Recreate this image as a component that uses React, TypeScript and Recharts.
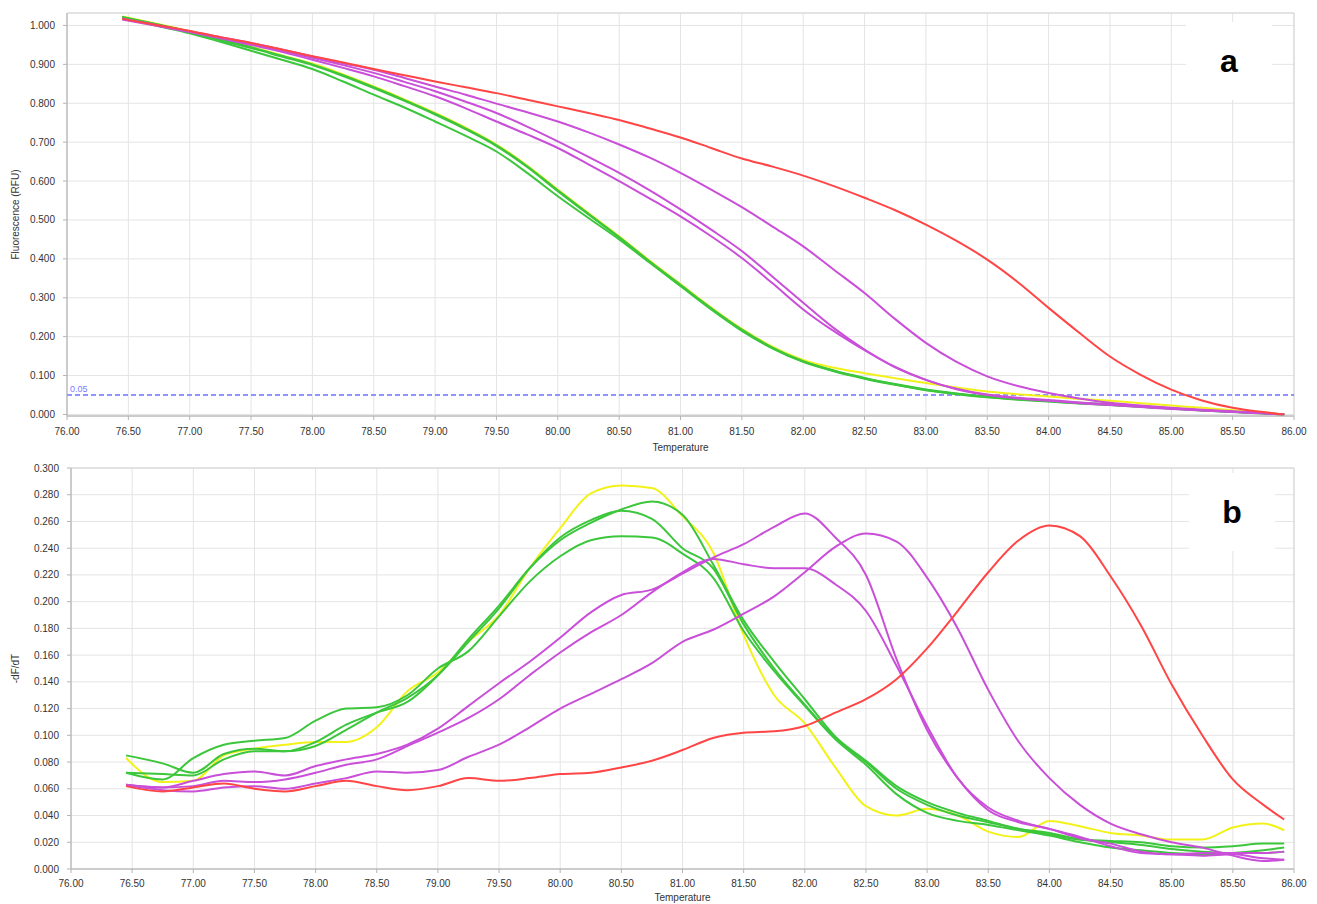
import React from 'react'
import { LineChart, Line, XAxis, YAxis, CartesianGrid, ReferenceLine, ReferenceArea } from 'recharts'

// temperature steps shared by both panels
const temps = [76.45, 76.75, 77.0, 77.25, 77.5, 77.75, 78.0, 78.25, 78.5, 78.75, 79.0, 79.25, 79.5, 79.75, 80.0, 80.25, 80.5, 80.75, 81.0, 81.25, 81.5, 81.75, 82.0, 82.25, 82.5, 82.75, 83.0, 83.25, 83.5, 83.75, 84.0, 84.25, 84.5, 84.75, 85.0, 85.25, 85.5, 85.75, 85.92]

// panel a: melt curves (RFU)
const meltYellow = [1.023, 1.003, 0.985, 0.965, 0.945, 0.923, 0.902, 0.874, 0.843, 0.810, 0.775, 0.737, 0.694, 0.640, 0.578, 0.518, 0.458, 0.395, 0.335, 0.275, 0.220, 0.174, 0.140, 0.120, 0.106, 0.093, 0.081, 0.069, 0.059, 0.052, 0.046, 0.040, 0.035, 0.029, 0.023, 0.017, 0.011, 0.005, 0.000]
const meltGreen1 = [1.022, 1.002, 0.984, 0.964, 0.944, 0.922, 0.900, 0.872, 0.841, 0.808, 0.773, 0.735, 0.692, 0.638, 0.576, 0.516, 0.456, 0.393, 0.333, 0.273, 0.218, 0.172, 0.137, 0.113, 0.094, 0.078, 0.064, 0.054, 0.046, 0.040, 0.035, 0.030, 0.026, 0.021, 0.016, 0.011, 0.007, 0.003, 0.000]
const meltGreen2 = [1.021, 1.001, 0.983, 0.962, 0.942, 0.920, 0.898, 0.870, 0.839, 0.806, 0.771, 0.733, 0.690, 0.636, 0.574, 0.514, 0.455, 0.392, 0.331, 0.272, 0.216, 0.170, 0.135, 0.111, 0.092, 0.076, 0.062, 0.052, 0.044, 0.038, 0.033, 0.028, 0.024, 0.020, 0.015, 0.011, 0.007, 0.003, 0.000]
const meltGreen3 = [1.020, 0.998, 0.980, 0.958, 0.935, 0.912, 0.888, 0.856, 0.822, 0.789, 0.753, 0.716, 0.676, 0.621, 0.561, 0.505, 0.450, 0.390, 0.330, 0.270, 0.215, 0.170, 0.136, 0.112, 0.093, 0.077, 0.063, 0.053, 0.045, 0.039, 0.034, 0.029, 0.025, 0.020, 0.015, 0.010, 0.006, 0.003, 0.000]
const meltMagenta1 = [1.017, 0.999, 0.984, 0.968, 0.952, 0.935, 0.917, 0.898, 0.878, 0.855, 0.831, 0.804, 0.775, 0.740, 0.702, 0.662, 0.621, 0.576, 0.527, 0.475, 0.420, 0.354, 0.287, 0.222, 0.167, 0.122, 0.089, 0.066, 0.051, 0.043, 0.037, 0.031, 0.026, 0.021, 0.016, 0.011, 0.007, 0.003, 0.000]
const meltMagenta2 = [1.015, 0.998, 0.983, 0.967, 0.950, 0.932, 0.912, 0.891, 0.869, 0.844, 0.818, 0.787, 0.753, 0.720, 0.685, 0.643, 0.600, 0.555, 0.509, 0.458, 0.402, 0.337, 0.270, 0.214, 0.165, 0.121, 0.089, 0.065, 0.050, 0.041, 0.035, 0.029, 0.024, 0.019, 0.014, 0.010, 0.006, 0.003, 0.000]
const meltMagenta3 = [1.017, 1.000, 0.985, 0.970, 0.955, 0.938, 0.920, 0.903, 0.886, 0.865, 0.843, 0.822, 0.799, 0.777, 0.753, 0.725, 0.694, 0.660, 0.621, 0.578, 0.533, 0.483, 0.432, 0.372, 0.312, 0.245, 0.184, 0.135, 0.098, 0.073, 0.055, 0.041, 0.030, 0.023, 0.017, 0.012, 0.008, 0.004, 0.000]
const meltRed = [1.017, 1.000, 0.986, 0.970, 0.955, 0.938, 0.921, 0.905, 0.888, 0.872, 0.856, 0.841, 0.826, 0.809, 0.792, 0.775, 0.757, 0.735, 0.712, 0.685, 0.658, 0.637, 0.614, 0.587, 0.557, 0.525, 0.488, 0.446, 0.398, 0.340, 0.274, 0.210, 0.149, 0.102, 0.064, 0.036, 0.017, 0.006, 0.000]

// panel b: -dF/dT
const derivYellow = [0.083, 0.065, 0.066, 0.085, 0.090, 0.093, 0.095, 0.095, 0.106, 0.133, 0.147, 0.170, 0.190, 0.225, 0.255, 0.281, 0.287, 0.285, 0.264, 0.237, 0.175, 0.130, 0.109, 0.076, 0.047, 0.040, 0.045, 0.040, 0.028, 0.024, 0.036, 0.032, 0.027, 0.025, 0.022, 0.022, 0.031, 0.034, 0.029]
const derivGreen1 = [0.072, 0.071, 0.070, 0.082, 0.088, 0.088, 0.095, 0.108, 0.117, 0.125, 0.145, 0.172, 0.197, 0.225, 0.246, 0.259, 0.269, 0.275, 0.265, 0.228, 0.186, 0.155, 0.127, 0.099, 0.081, 0.062, 0.050, 0.042, 0.036, 0.030, 0.027, 0.022, 0.020, 0.018, 0.015, 0.013, 0.012, 0.012, 0.013]
const derivGreen2 = [0.085, 0.079, 0.072, 0.086, 0.090, 0.088, 0.092, 0.104, 0.117, 0.128, 0.145, 0.170, 0.195, 0.225, 0.248, 0.261, 0.268, 0.262, 0.240, 0.225, 0.183, 0.150, 0.123, 0.098, 0.080, 0.060, 0.048, 0.040, 0.035, 0.030, 0.026, 0.022, 0.021, 0.020, 0.017, 0.016, 0.017, 0.019, 0.019]
const derivGreen3 = [0.072, 0.067, 0.083, 0.093, 0.096, 0.098, 0.111, 0.120, 0.121, 0.130, 0.150, 0.163, 0.189, 0.215, 0.234, 0.246, 0.249, 0.248, 0.236, 0.218, 0.178, 0.148, 0.122, 0.097, 0.078, 0.056, 0.042, 0.036, 0.033, 0.029, 0.025, 0.020, 0.016, 0.014, 0.012, 0.011, 0.012, 0.014, 0.016]
const derivMagenta1 = [0.063, 0.061, 0.066, 0.071, 0.073, 0.070, 0.077, 0.082, 0.086, 0.093, 0.105, 0.122, 0.139, 0.155, 0.173, 0.192, 0.205, 0.209, 0.221, 0.233, 0.243, 0.256, 0.266, 0.248, 0.220, 0.157, 0.104, 0.068, 0.044, 0.035, 0.030, 0.023, 0.019, 0.013, 0.011, 0.012, 0.012, 0.012, 0.013]
const derivMagenta2 = [0.063, 0.061, 0.062, 0.066, 0.065, 0.067, 0.072, 0.078, 0.082, 0.092, 0.102, 0.113, 0.127, 0.145, 0.162, 0.177, 0.190, 0.207, 0.222, 0.232, 0.228, 0.225, 0.225, 0.213, 0.193, 0.152, 0.107, 0.068, 0.046, 0.036, 0.030, 0.024, 0.017, 0.012, 0.011, 0.010, 0.011, 0.008, 0.007]
const derivMagenta3 = [0.063, 0.059, 0.058, 0.061, 0.062, 0.060, 0.064, 0.068, 0.073, 0.072, 0.074, 0.084, 0.093, 0.106, 0.120, 0.131, 0.142, 0.154, 0.170, 0.179, 0.191, 0.204, 0.222, 0.241, 0.251, 0.245, 0.218, 0.180, 0.134, 0.095, 0.068, 0.048, 0.034, 0.026, 0.020, 0.016, 0.010, 0.006, 0.007]
const derivRed = [0.062, 0.058, 0.061, 0.064, 0.060, 0.058, 0.062, 0.066, 0.062, 0.059, 0.062, 0.068, 0.066, 0.068, 0.071, 0.072, 0.076, 0.081, 0.089, 0.098, 0.102, 0.103, 0.107, 0.117, 0.127, 0.142, 0.165, 0.193, 0.222, 0.246, 0.257, 0.249, 0.219, 0.182, 0.138, 0.100, 0.067, 0.048, 0.037]

// axis ticks
const xTicks = [76, 76.5, 77, 77.5, 78, 78.5, 79, 79.5, 80, 80.5, 81, 81.5, 82, 82.5, 83, 83.5, 84, 84.5, 85, 85.5, 86]
const meltTicks = [0, 0.1, 0.2, 0.3, 0.4, 0.5, 0.6, 0.7, 0.8, 0.9, 1.0]
const derivTicks = [0, 0.02, 0.04, 0.06, 0.08, 0.1, 0.12, 0.14, 0.16, 0.18, 0.2, 0.22, 0.24, 0.26, 0.28, 0.3]
const xMinor = Array.from({ length: 101 }, (_, i) => 76 + i * 0.1)
const meltMinor = Array.from({ length: 52 }, (_, i) => i * 0.02)
const derivMinor = Array.from({ length: 31 }, (_, i) => i * 0.01)
const threshold = 0.05

const YELLOW = '#f2f21a'
const GREEN = '#3cc63c'
const MAGENTA = '#c94fd9'
const RED = '#ff4545'

const FONT = '"Liberation Sans", Arial, sans-serif'
const tickStyle = { fontSize: 10, fill: '#333', fontFamily: FONT }
const AXIS = '#b4b4b4'

const seriesKeys = [
  { key: 'yellow', color: YELLOW },
  { key: 'green1', color: GREEN },
  { key: 'green2', color: GREEN },
  { key: 'green3', color: GREEN },
  { key: 'magenta1', color: MAGENTA },
  { key: 'magenta2', color: MAGENTA },
  { key: 'magenta3', color: MAGENTA },
  { key: 'red', color: RED },
]

const meltRows = temps.map((t, i) => ({
  t,
  yellow: meltYellow[i], green1: meltGreen1[i], green2: meltGreen2[i], green3: meltGreen3[i],
  magenta1: meltMagenta1[i], magenta2: meltMagenta2[i], magenta3: meltMagenta3[i], red: meltRed[i],
}))

const derivRows = temps.map((t, i) => ({
  t,
  yellow: derivYellow[i], green1: derivGreen1[i], green2: derivGreen2[i], green3: derivGreen3[i],
  magenta1: derivMagenta1[i], magenta2: derivMagenta2[i], magenta3: derivMagenta3[i], red: derivRed[i],
}))

function YTitle({ viewBox, text }: any) {
  const cx = 7
  const cy = viewBox.y + viewBox.height / 2
  return (
    <text x={cx} y={cy} transform={`rotate(-90 ${cx} ${cy})`} textAnchor="middle" dominantBaseline="central"
      fontSize={10} fill="#333" fontFamily={FONT}>{text}</text>
  )
}

function PanelLetter({ top, left, letter }: { top: number; left: number; letter: string }) {
  return (
    <div style={{ position: 'absolute', top, left, width: 86, height: 78, background: '#fff' }}>
      <div style={{ position: 'absolute', top: 23, left: 0, width: 86, textAlign: 'center', fontSize: 32, lineHeight: '32px', fontWeight: 'bold', fontFamily: FONT, color: '#000' }}>
        {letter}
      </div>
    </div>
  )
}

export default function App() {
  return (
    <div style={{ position: 'relative', width: 1301, height: 896, background: '#fff' }}>
      <div style={{ position: 'absolute', top: 0, left: 0 }}>
        <LineChart width={1301} height={450} data={meltRows} margin={{ top: 5, right: 15, bottom: 4, left: 0 }}>
          <XAxis xAxisId="minor" dataKey="t" type="number" domain={[76, 86]} ticks={xMinor} interval={0}
            tick={false} tickSize={3} axisLine={false} height={0} stroke={AXIS} allowDataOverflow />
          <XAxis dataKey="t" type="number" domain={[76, 86]} ticks={xTicks} interval={0} height={38}
            tickFormatter={(v: number) => v.toFixed(2)} tick={tickStyle} tickSize={4} tickMargin={8}
            stroke={AXIS} allowDataOverflow
            label={{ value: 'Temperature', position: 'insideBottom', offset: 3, style: { fontSize: 10, fill: '#333', fontFamily: FONT } }} />
          <YAxis yAxisId="minor" type="number" domain={[-0.004, 1.032]} ticks={meltMinor} interval={0}
            tick={false} tickSize={3} axisLine={false} width={0} stroke={AXIS} allowDataOverflow />
          <YAxis type="number" domain={[-0.004, 1.032]} ticks={meltTicks} interval={0} width={59}
            tickFormatter={(v: number) => v.toFixed(3)} tick={tickStyle} tickSize={4} tickMargin={8}
            stroke={AXIS} allowDataOverflow label={<YTitle text="Fluorescence (RFU)" />} />
          <CartesianGrid stroke="#e4e4e4" />
          <ReferenceArea x1={76} x2={86} y1={-0.004} y2={1.032} fill="none" stroke="#d4d4d4" />
          <ReferenceLine y={threshold} stroke="#7070ff" strokeWidth={1.5} strokeDasharray="5 3"
            label={{ value: '0.05', position: 'insideBottomLeft', offset: 3, style: { fontSize: 9, fill: '#7b7bff', fontFamily: FONT } }} />
          {seriesKeys.map((s) => (
            <Line key={s.key} dataKey={s.key} type="monotone" stroke={s.color} strokeWidth={2}
              dot={false} isAnimationActive={false} />
          ))}
        </LineChart>
      </div>
      <div style={{ position: 'absolute', top: 450, left: 0 }}>
        <LineChart width={1301} height={445} data={derivRows} margin={{ top: 10, right: 15, bottom: 0, left: 0 }}>
          <XAxis xAxisId="minor" dataKey="t" type="number" domain={[76, 86]} ticks={xMinor} interval={0}
            tick={false} tickSize={3} axisLine={false} height={0} stroke={AXIS} allowDataOverflow />
          <XAxis dataKey="t" type="number" domain={[76, 86]} ticks={xTicks} interval={0} height={34}
            tickFormatter={(v: number) => v.toFixed(2)} tick={tickStyle} tickSize={4} tickMargin={7}
            stroke={AXIS} allowDataOverflow
            label={{ value: 'Temperature', position: 'insideBottom', offset: 2, style: { fontSize: 10, fill: '#333', fontFamily: FONT } }} />
          <YAxis yAxisId="minor" type="number" domain={[0, 0.3]} ticks={derivMinor} interval={0}
            tick={false} tickSize={3} axisLine={false} width={0} stroke={AXIS} allowDataOverflow />
          <YAxis type="number" domain={[0, 0.3]} ticks={derivTicks} interval={0} width={63}
            tickFormatter={(v: number) => v.toFixed(3)} tick={tickStyle} tickSize={4} tickMargin={8}
            stroke={AXIS} allowDataOverflow label={<YTitle text="-dF/dT" />} />
          <CartesianGrid stroke="#e4e4e4" />
          <ReferenceArea x1={76} x2={86} y1={0} y2={0.3} fill="none" stroke="#d4d4d4" />
          {seriesKeys.map((s) => (
            <Line key={s.key} dataKey={s.key} type="monotone" stroke={s.color} strokeWidth={2}
              dot={false} isAnimationActive={false} />
          ))}
        </LineChart>
      </div>
      <PanelLetter top={14} left={1178} letter="a" />
      <PanelLetter top={465} left={1181} letter="b" />
    </div>
  )
}
